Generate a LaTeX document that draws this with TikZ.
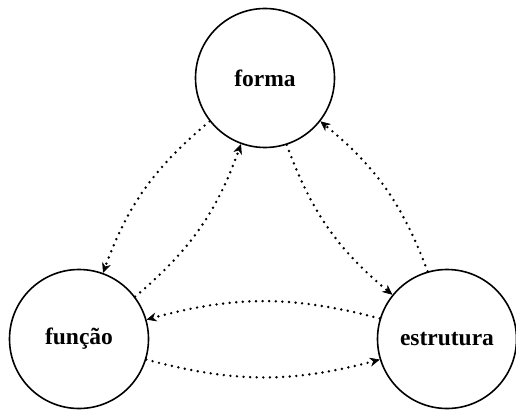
\documentclass[tikz,border=0pt]{standalone}
\usepackage{fontspec}
\setmainfont{Liberation Serif}
\usetikzlibrary{arrows.meta}
\begin{document}
\begin{tikzpicture}[x=1pt,y=1pt,
  state/.style={circle,draw,line width=1.6pt,minimum size=139pt,inner sep=0pt,font=\bfseries\fontsize{23.5}{28}\selectfont},
  link/.style={line width=2.7pt,line cap=round,dash pattern=on 0pt off 6.6pt,
    -{Stealth[length=10pt,width=9pt,inset=3.2pt,line width=0.6pt]},bend right=15}]
\useasboundingbox (0,0) rectangle (516,410);
\node[state] (forma) at (265,332) {forma};
\node[state] (funcao) at (79,71) {função};
\node[state] (estrutura) at (447,71) {estrutura};
\draw[link] (forma.218) to (funcao.70);
\draw[link] (funcao.37) to (forma.250);
\draw[link] (forma.288) to (estrutura.141);
\draw[link] (estrutura.106) to (forma.322);
\draw[link] (estrutura.163) to (funcao.16);
\draw[link] (funcao.-17) to (estrutura.197);
\end{tikzpicture}
\end{document}
